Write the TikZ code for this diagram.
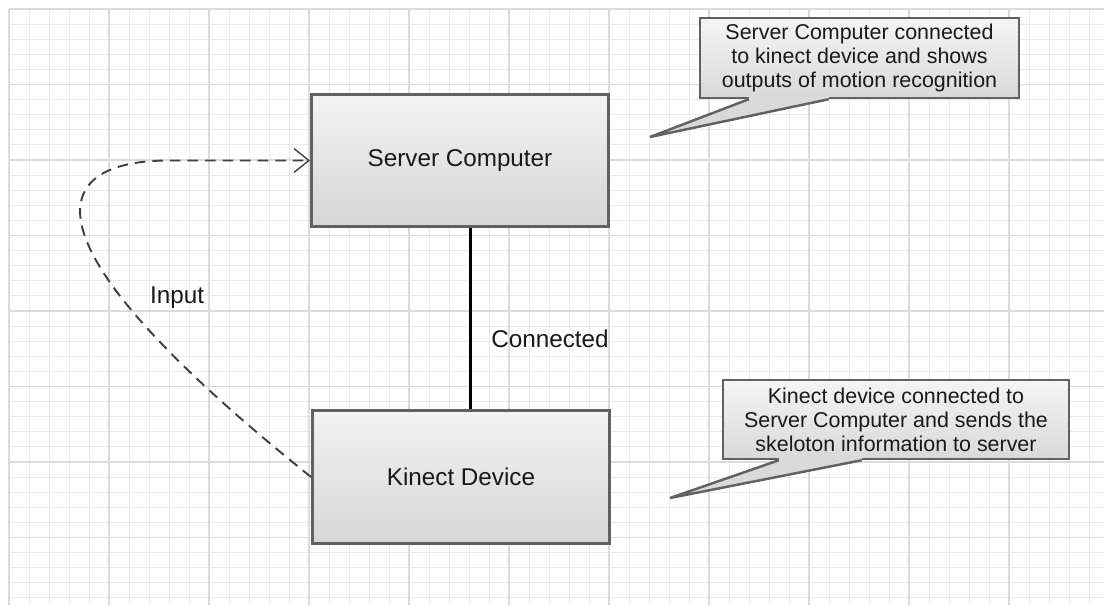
\documentclass[tikz,border=0pt]{standalone}
\usepackage{fontspec}
\setmainfont{Liberation Sans}
\usetikzlibrary{arrows.meta, calc}
\tikzset{
    my-box/.style={
      draw=black!62, line width=1.7pt, top color=black!5, bottom color=black!16,
      minimum width=5.94cm, minimum height=2.66cm, inner sep=0pt,
      font=\fontsize{13.8}{16.5}\selectfont, text=black!90
    },
    my-note/.style={
      draw=black!62, line width=1.4pt, top color=black!4, bottom color=black!15,
      align=center, inner sep=0pt, font=\fontsize{12.2}{13.6}\selectfont, text=black!90
    },
    my-pointer/.style={
      fill=black!15
    },
    my-pointer-line/.style={
      draw=black!62, line width=1.4pt, line join=miter
    },
    my-label/.style={
      font=\fontsize{13.8}{16.5}\selectfont, text=black!90
    },
    my-link/.style={
      draw=black, line width=1.7pt
    },
    my-input/.style={
      draw=black!75, line width=1.1pt, dash pattern=on 6pt off 4pt,
      -{Straight Barb[length=8.5pt, width=13.6pt, line width=0.8pt]}
    },
    my-minor/.style={draw=black!8, line width=0.5pt},
    my-major/.style={draw=black!14, line width=0.6pt},
}

\begin{document}
\begin{tikzpicture}[x=0.02cm, y=-0.02cm]

        % PAGE AND GRID
        \fill[white, use as bounding box] (0,0) rectangle (1104,605);
        \foreach \gx in {9,29,...,1104} \draw[my-minor] (\gx,9) -- (\gx,605);
        \foreach \gy in {9,24.1,...,605} \draw[my-minor] (9,\gy) -- (1104,\gy);
        \foreach \gx in {9,109,...,1104} \draw[my-major] (\gx,9) -- (\gx,605);
        \foreach \gy in {9,84.5,...,605} \draw[my-major] (9,\gy) -- (1104,\gy);

        % BOXES
        \node[my-box] (SERVER) at (460, 160.5) {Server Computer};
        \node[my-box] (KINECT) at (461, 477)   {Kinect Device};

        % LINK
        \draw[my-link] ($(SERVER.south) + (10, 0)$) -- ($(KINECT.north) + (9, 0)$);
        \node[my-label] (CONNECTED) at ($(SERVER.south) + (90, 110)$) {Connected};

        % INPUT
        \draw[my-input] (KINECT.west)
            .. controls ($(KINECT.west) + (-300, -240)$) and ($(SERVER.west) + (-261, 0)$)
            .. ($(SERVER.west) + (-141, 0)$) -- (SERVER.west);
        \node[my-label] (INPUT) at ($(KINECT.west) + (-134, -179)$) {Input};

        % NOTE FOR SERVER
        \node[my-note, minimum width=6.38cm, minimum height=1.6cm] (SERVERNOTE) at (859.5, 58)
            {Server Computer connected\\to kinect device and shows\\outputs of motion recognition};
        \coordinate (SERVERTIP) at (650, 137);
        \fill[my-pointer] ($(SERVERNOTE.south west) + (50, -2)$) -- ($(SERVERNOTE.south west) + (130, -2)$)
            -- ($(SERVERNOTE.south west) + (130, 0)$) -- (SERVERTIP) -- ($(SERVERNOTE.south west) + (50, 0)$) -- cycle;
        \draw[my-pointer-line] ($(SERVERNOTE.south west) + (50, 0)$) -- (SERVERTIP) -- ($(SERVERNOTE.south west) + (130, 0)$);

        % NOTE FOR KINECT
        \node[my-note, minimum width=6.92cm, minimum height=1.58cm] (KINECTNOTE) at (896, 419.5)
            {Kinect device connected to\\Server Computer and sends the\\skeloton information to server};
        \coordinate (KINECTTIP) at (670, 498);
        \fill[my-pointer] ($(KINECTNOTE.south west) + (57, -2)$) -- ($(KINECTNOTE.south west) + (140, -2)$)
            -- ($(KINECTNOTE.south west) + (140, 0)$) -- (KINECTTIP) -- ($(KINECTNOTE.south west) + (57, 0)$) -- cycle;
        \draw[my-pointer-line] ($(KINECTNOTE.south west) + (57, 0)$) -- (KINECTTIP) -- ($(KINECTNOTE.south west) + (140, 0)$);

\end{tikzpicture}
\end{document}
